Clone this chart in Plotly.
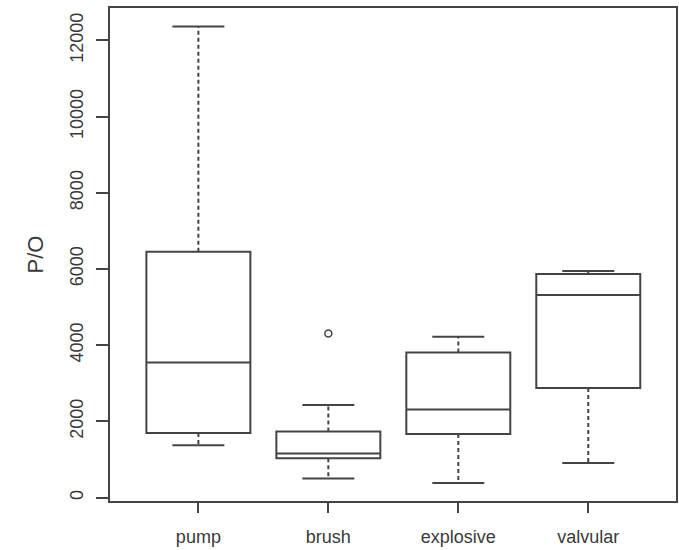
import plotly.graph_objects as go

categories = ["pump", "brush", "explosive", "valvular"]
lower_whisker = [1374, 499, 384, 909]
q1 = [1698, 1033, 1671, 2880]
median = [3548, 1156, 2313, 5316]
q3 = [6454, 1734, 3811, 5868]
upper_whisker = [12367, 2434, 4221, 5947]
outlier_cat = [2]
outlier_val = [4310]
y_ticks = [0, 2000, 4000, 6000, 8000, 10000, 12000]

LINE = "#444444"
FONT = dict(family="Liberation Sans, Arial, sans-serif", size=18, color="#3a3a3a")
BOX_W = 0.8
CAP_HALF = 0.2

positions = list(range(1, len(categories) + 1))

fig = go.Figure()

# boxes
fig.add_trace(go.Box(
    x=positions, q1=q1, median=median, q3=q3,
    lowerfence=q1, upperfence=q3,
    width=BOX_W, fillcolor="white",
    line=dict(color=LINE, width=2),
    boxpoints=False, hoverinfo="skip", showlegend=False,
))

# whiskers (dashed) and caps
for i, p in enumerate(positions):
    fig.add_trace(go.Scatter(
        x=[p, p], y=[q3[i], upper_whisker[i]], mode="lines",
        line=dict(color=LINE, width=2, dash="4px,3px"),
        showlegend=False, hoverinfo="skip"))
    fig.add_trace(go.Scatter(
        x=[p, p], y=[q1[i], lower_whisker[i]], mode="lines",
        line=dict(color=LINE, width=2, dash="4px,3px"),
        showlegend=False, hoverinfo="skip"))
    for v in (upper_whisker[i], lower_whisker[i]):
        fig.add_trace(go.Scatter(
            x=[p - CAP_HALF, p + CAP_HALF], y=[v, v], mode="lines",
            line=dict(color=LINE, width=2),
            showlegend=False, hoverinfo="skip"))

# outliers
fig.add_trace(go.Scatter(
    x=outlier_cat, y=outlier_val, mode="markers",
    marker=dict(symbol="circle-open", size=7, color=LINE, line=dict(width=1.5, color=LINE)),
    showlegend=False, hoverinfo="skip"))

fig.update_layout(
    width=679, height=550,
    margin=dict(l=110, r=3, t=8, b=49, autoexpand=False),
    paper_bgcolor="white", plot_bgcolor="white",
    font=FONT,
    showlegend=False,
    xaxis=dict(
        range=[0.32, 4.675],
        tickvals=positions, ticktext=categories,
        showgrid=False, zeroline=False, automargin=False,
        showline=True, mirror=True, linecolor=LINE, linewidth=2,
        ticks="outside", ticklen=10, tickwidth=2, tickcolor=LINE,
        ticklabelstandoff=8,
    ),
    yaxis=dict(
        range=[-89, 12851],
        tickvals=y_ticks, ticktext=[str(v) for v in y_ticks],
        tickangle=-90,
        showgrid=False, zeroline=False, automargin=False,
        showline=True, mirror=True, linecolor=LINE, linewidth=2,
        ticks="outside", ticklen=12, tickwidth=2, tickcolor=LINE,
        ticklabelstandoff=6,
        title=dict(text="P/O", standoff=17),
    ),
)

fig.write_html(
    "out.html",
    config={"displayModeBar": False},
    post_script="document.body.style.margin='0px';document.body.style.overflow='hidden';",
)
